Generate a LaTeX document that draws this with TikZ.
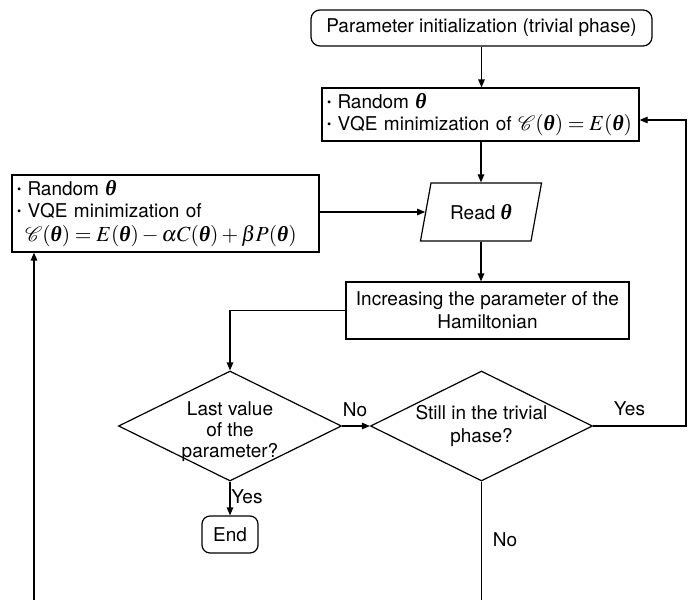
\documentclass[tikz,border=0pt]{standalone}
\usepackage{amsmath,mathptmx,mathrsfs}
\usepackage{fontspec}
\setmainfont{TeX Gyre Heros}
\newfontfamily\timesgr{Liberation Serif}
\usetikzlibrary{arrows.meta,shapes.geometric,calc}

% small raised bullet for the list lines
\newcommand{\itm}{\raisebox{1.6pt}{\fontsize{12}{12}\selectfont\textbullet}\ }
% bold italic theta set as text in a Times-like face
\newcommand{\thb}{\mbox{\timesgr\bfseries\itshape θ}}
% formulas are set a little larger than the sans text
\newcommand{\mth}[1]{{\fontsize{21.5}{23}\selectfont$#1$}}

\begin{document}
\begin{tikzpicture}[x=1pt,y=-1pt,
  every node/.style={font=\fontsize{19}{23}\selectfont},
  conn/.style={line width=1.2pt},
  arr/.style={conn,-{Triangle[length=8pt,width=6.5pt]}},
  roundbox/.style={draw,line width=1.2pt,rounded corners=9pt,inner sep=0pt,align=center},
  procbox/.style={draw,line width=1.2pt,inner sep=0pt,align=center},
  listbox/.style={draw,line width=1.2pt,inner xsep=5pt,inner ysep=0pt,align=left},
  decision/.style={draw,line width=1.2pt,shape=diamond,inner sep=0pt},
  iobox/.style={draw,line width=1.2pt,shape=trapezium,trapezium left angle=67,
    trapezium right angle=113,trapezium stretches=true,inner sep=0pt},
  lab/.style={inner sep=0pt}
]
\useasboundingbox (0,0) rectangle (688,600);

% boxes
\node[roundbox,minimum width=341pt,minimum height=36pt] (start) at (481.5,28)
  {Parameter initialization (trivial phase)};

\node[listbox,text width=307pt,minimum height=53pt] (triv) at (480.5,114.5)
  {\itm Random \mth{\thb}\\[-1pt]\itm VQE minimization of \mth{\mathscr{C}(\thb)=E(\thb)}};

\node[listbox,text width=297pt,minimum height=77pt] (pen) at (165.5,213.5)
  {\itm Random \mth{\thb}\\[-1pt]\itm VQE minimization of\\[1.5pt]
   \hspace*{8pt}\mth{\mathscr{C}(\thb)=E(\thb)-\alpha C(\thb)+\beta P(\thb)}};

\node[iobox,minimum width=122pt,minimum height=58pt] (read) at (481,212)
  {Read \mth{\thb}};

\node[procbox,minimum width=283pt,minimum height=57pt] (inc) at (487.5,310.5)
  {Increasing the parameter of the\\Hamiltonian};

\node[decision,minimum width=223pt,minimum height=110pt] (last) at (230,426) {};
\node[align=center,inner sep=0pt,font=\fontsize{19}{21}\selectfont] (lasttxt) at (230,432)
  {Last value\\of the\\parameter?};

\node[decision,minimum width=222pt,minimum height=110pt] (still) at (481.5,426) {};
\node[align=center,inner sep=0pt] (stilltxt) at (481.5,426)
  {Still in the trivial\\phase?};

\node[roundbox,rounded corners=8pt,minimum width=56pt,minimum height=37pt] (end) at (230,534.5)
  {End};

% free ends and bends
\coordinate (loopx) at (686,426);
\coordinate (trivin) at ([yshift=-5.5pt]triv.east);
\coordinate (nobot) at (481.5,600);
\coordinate (penbot) at (34,600);

% connectors
\draw[arr] (start.south) -- (start.south |- triv.north);
\draw[arr] (triv.south -| read.north) -- (read.north);
\draw[arr] (pen.east |- read.west) -- (read.west);
\draw[arr] (read.south) -- (read.south |- inc.north);
\draw[arr] (inc.west) -| (last.north);
\draw[arr] (last.east) -- (still.west);
\draw[arr] (last.south) -- (end.north);
\draw[arr] (still.east) -- (loopx) |- (trivin);
\draw[conn] (still.south) -- (nobot);
\draw[arr] (penbot) -- (penbot |- pen.south);

% branch labels
\node[lab] (lno) at (355,410) {No};
\node[lab] (lyes) at (247,497) {Yes};
\node[lab] (ryes) at (629.5,409) {Yes};
\node[lab] (dno) at (505,540) {No};
\end{tikzpicture}
\end{document}
